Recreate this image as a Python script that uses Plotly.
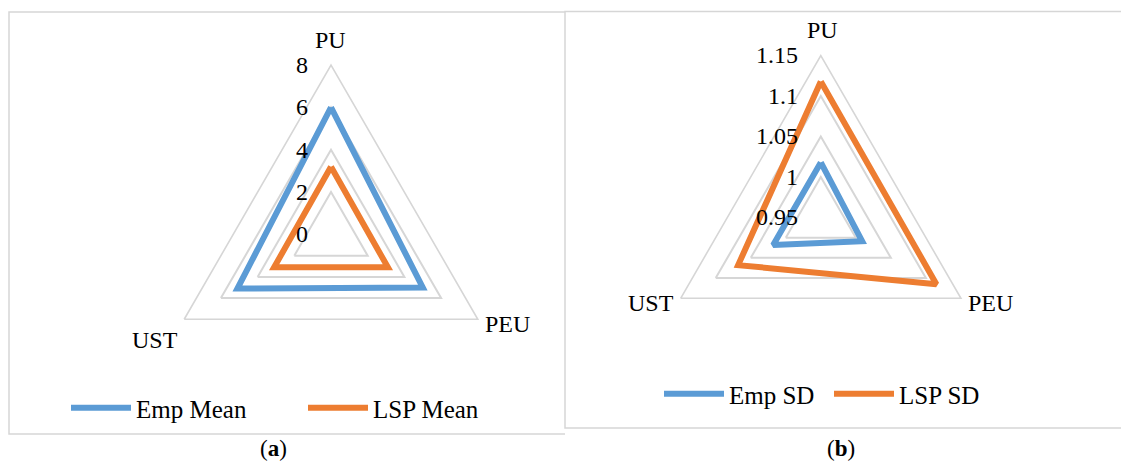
import plotly.graph_objects as go

W, H = 1121, 463

categories = ["PU", "PEU", "UST"]
emp_mean = [6.0, 5.0, 5.1]
lsp_mean = [3.2, 3.1, 3.1]
emp_sd = [1.018, 1.009, 1.018]
lsp_sd = [1.118, 1.115, 1.068]
mean_ticks = [0, 2, 4, 6, 8]
mean_tick_labels = ["0", "2", "4", "6", "8"]
sd_ticks = [0.95, 1.0, 1.05, 1.1, 1.15]
sd_tick_labels = ["0.95", "1", "1.05", "1.1", "1.15"]
panel_captions = ["a", "b"]

BLUE = "#5B9BD5"
ORANGE = "#ED7D31"
GRID = "#D6D6D6"
FONT = "'Liberation Serif', 'Times New Roman', serif"

# layout (pixel positions) -------------------------------------------------
POLAR_A = (331, 234.5, 169.5)      # centre x, centre y, radius
POLAR_B = (820.8, 217.4, 161.8)
CAT_LABEL_POS_A = [(330.5, 39.5), (507, 323.5), (155, 340)]
CAT_LABEL_POS_B = [(822.5, 30), (990.8, 302.5), (650.5, 302.5)]
CAPTION_X = [273, 841]


def closed(v):
    return list(v) + [v[0]]


def px_x(p):
    return p / W


def px_y(p):
    return 1 - p / H


fig = go.Figure()
fig.add_trace(go.Scatterpolar(r=closed(emp_mean), theta=closed(categories), mode="lines",
                              name="Emp Mean", line=dict(color=BLUE, width=6), subplot="polar",
                              legend="legend"))
fig.add_trace(go.Scatterpolar(r=closed(lsp_mean), theta=closed(categories), mode="lines",
                              name="LSP Mean", line=dict(color=ORANGE, width=6), subplot="polar",
                              legend="legend"))
fig.add_trace(go.Scatterpolar(r=closed(emp_sd), theta=closed(categories), mode="lines",
                              name="Emp SD", line=dict(color=BLUE, width=6), subplot="polar2",
                              legend="legend2"))
fig.add_trace(go.Scatterpolar(r=closed(lsp_sd), theta=closed(categories), mode="lines",
                              name="LSP SD", line=dict(color=ORANGE, width=6), subplot="polar2",
                              legend="legend2"))


def polar_layout(geom, rng, tickvals, ticktext):
    cx, cy, r = geom
    return dict(
        domain=dict(x=[px_x(cx - r), px_x(cx + r)], y=[px_y(cy + r), px_y(cy - r)]),
        bgcolor="white",
        gridshape="linear",
        radialaxis=dict(range=rng, tickvals=tickvals, ticktext=ticktext, angle=90,
                        tickangle=90, side="counterclockwise", showline=False,
                        gridcolor=GRID, gridwidth=1.6, ticks="outside", ticklen=14,
                        tickcolor="rgba(0,0,0,0)",
                        tickfont=dict(family=FONT, size=24, color="#000")),
        angularaxis=dict(direction="clockwise", rotation=90, showgrid=False,
                         showline=True, linecolor=GRID, linewidth=1.6, ticks="",
                         showticklabels=False),
    )


legend_common = dict(orientation="h", font=dict(family=FONT, size=25, color="#000"),
                     bgcolor="rgba(0,0,0,0)", xanchor="left", yanchor="middle",
                     itemwidth=60, entrywidthmode="pixels")

annotations = []
for name, pos in list(zip(categories, CAT_LABEL_POS_A)) + list(zip(categories, CAT_LABEL_POS_B)):
    annotations.append(dict(text=name, x=px_x(pos[0]), y=px_y(pos[1]), xref="paper", yref="paper",
                            xanchor="center", yanchor="middle", showarrow=False,
                            font=dict(family=FONT, size=24, color="#000")))
for cap, cx in zip(panel_captions, CAPTION_X):
    annotations.append(dict(text=f"(<b>{cap}</b>)", x=px_x(cx), y=0,
                            xref="paper", yref="paper", xanchor="center", yanchor="bottom",
                            showarrow=False, font=dict(family=FONT, size=23, color="#000")))

fig.update_layout(
    width=W, height=H,
    margin=dict(l=0, r=0, t=0, b=0),
    paper_bgcolor="white",
    font=dict(family=FONT, size=24, color="#000"),
    polar=polar_layout(POLAR_A, [0, 8], mean_ticks, mean_tick_labels),
    polar2=polar_layout(POLAR_B, [0.95, 1.15], sd_ticks, sd_tick_labels),
    legend=dict(x=px_x(66), y=px_y(408), entrywidth=162, **legend_common),
    legend2=dict(x=px_x(659), y=px_y(394), entrywidth=95, **legend_common),
    showlegend=True,
    shapes=[
        dict(type="path", xref="paper", yref="paper",
             path=f"M {px_x(565)} {px_y(12)} L {px_x(9)} {px_y(12)} L {px_x(9)} {px_y(434)} L {px_x(565)} {px_y(434)}",
             line=dict(color=GRID, width=1.5)),
        dict(type="rect", xref="paper", yref="paper",
             x0=px_x(565), y0=px_y(428), x1=px_x(1125), y1=px_y(11.5),
             line=dict(color=GRID, width=1.5)),
    ],
    annotations=annotations,
)

fig.write_html("out.html")
